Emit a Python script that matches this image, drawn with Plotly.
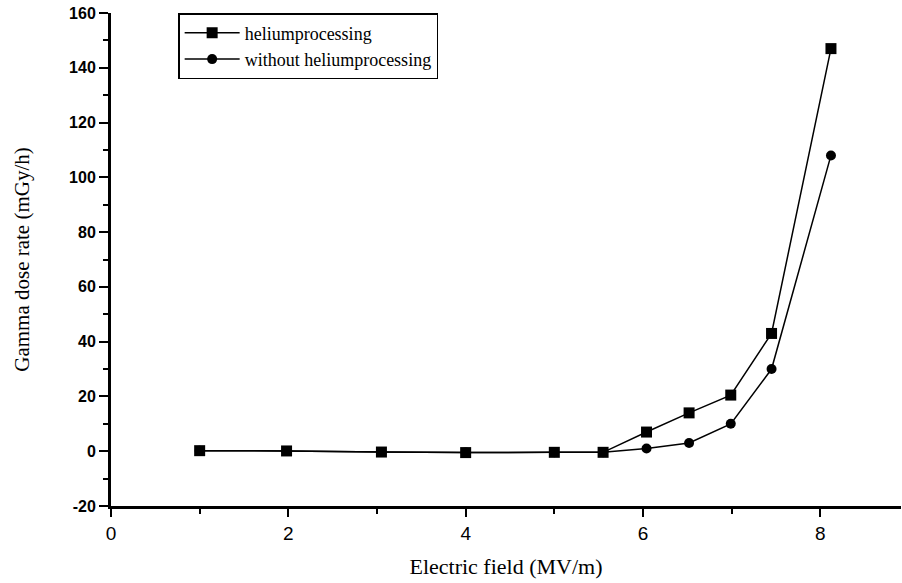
import plotly.graph_objects as go

field = [1.0, 1.98, 3.05, 4.0, 5.0, 5.55, 6.04, 6.52, 6.99, 7.45, 8.12]
helium = [0.2, 0.1, -0.3, -0.5, -0.4, -0.4, 7.0, 14.0, 20.5, 43.0, 147.0]
without_helium = [0.2, 0.1, -0.3, -0.5, -0.4, -0.4, 1.0, 3.0, 10.0, 30.0, 108.0]

y_ticks = [-20, 0, 20, 40, 60, 80, 100, 120, 140, 160]
y_tick_labels = ["-20", "0", "20", "40", "60", "80", "100", "120", "140", "160"]
x_ticks = [0, 2, 4, 6, 8]
x_tick_labels = ["0", "2", "4", "6", "8"]

fig = go.Figure()
fig.add_trace(go.Scatter(
    x=field, y=helium, name="heliumprocessing", mode="lines+markers",
    line=dict(color="black", width=1.5),
    marker=dict(symbol="square", size=11, color="black"),
))
fig.add_trace(go.Scatter(
    x=field, y=without_helium, name="without heliumprocessing", mode="lines+markers",
    line=dict(color="black", width=1.5),
    marker=dict(symbol="circle", size=10, color="black"),
))

fig.update_layout(
    width=902, height=583,
    margin=dict(l=111, r=1, t=13, b=77),
    plot_bgcolor="white", paper_bgcolor="white",
    showlegend=True,
    legend=dict(
        x=0.085, y=1.0, xanchor="left", yanchor="top",
        bordercolor="black", borderwidth=1.5, bgcolor="white",
        font=dict(family="Liberation Serif", size=18, color="black"),
        itemwidth=55, tracegroupgap=0,
    ),
    xaxis=dict(
        range=[0, 8.91], tickvals=x_ticks, ticktext=x_tick_labels,
        showgrid=False, zeroline=False,
        showline=True, linewidth=3, linecolor="black",
        ticks="outside", ticklen=8, tickwidth=2, tickcolor="black",
        minor=dict(dtick=1, tick0=0, ticks="outside", ticklen=5, tickwidth=2, tickcolor="black", showgrid=False),
        tickfont=dict(family="Liberation Sans", size=19, color="black"),
        title=dict(text="Electric field (MV/m)", standoff=16,
                   font=dict(family="Liberation Serif", size=22, color="black")),
    ),
    yaxis=dict(
        range=[-20, 160], tickvals=y_ticks, ticktext=y_tick_labels,
        showgrid=False, zeroline=False,
        showline=True, linewidth=3, linecolor="black",
        ticks="outside", ticklen=9, tickwidth=2, tickcolor="black",
        minor=dict(dtick=10, tick0=0, ticks="outside", ticklen=5, tickwidth=2, tickcolor="black", showgrid=False),
        tickfont=dict(family="Liberation Sans Narrow, Liberation Sans", size=16, color="black", weight="bold"),
        title=dict(text="Gamma dose rate (mGy/h)", standoff=34,
                   font=dict(family="Liberation Serif", size=21, color="black")),
    ),
)

fig.write_html("out.html")
